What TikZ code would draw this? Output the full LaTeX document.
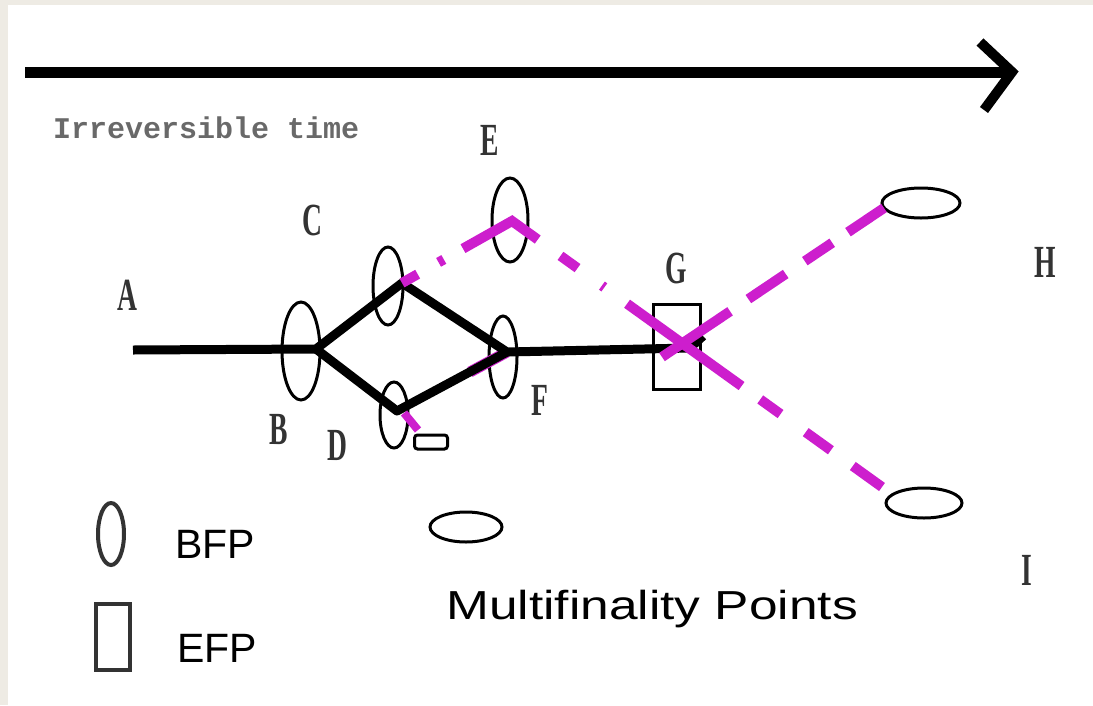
\documentclass[tikz,border=0pt]{standalone}
\usepackage{fontspec}
\usetikzlibrary{shapes.geometric}
\newfontfamily\lblfont[FakeStretch=0.6]{Liberation Serif}
\newfontfamily\legfont{Liberation Sans}
\newfontfamily\mfpfont[FakeStretch=1.27]{Liberation Sans}
\newfontfamily\irrfont{Liberation Mono}
\definecolor{bgbeige}{RGB}{238,235,228}
\definecolor{mag}{RGB}{205,30,205}
\definecolor{irrgray}{RGB}{105,105,105}
\begin{document}
\begin{tikzpicture}[x=1pt,y=-1pt,
  bfp/.style={draw=black,line width=3pt,ellipse,inner sep=0pt},
  lbl/.style={font=\lblfont\bfseries\fontsize{46}{46}\selectfont,text=black!80,inner sep=0pt},
  pathline/.style={draw=black,line width=9pt,line join=round},
  magline/.style={draw=mag,line width=10pt},
  legtext/.style={font=\legfont\fontsize{41}{41}\selectfont,anchor=base west,inner sep=0pt}]
% background
\fill[bgbeige] (0,0) rectangle (1093,705);
\fill[white] (8,5) rectangle (1093,705);
\useasboundingbox (0,0) rectangle (1093,705);

% time arrow
\coordinate (t0) at (25,72);
\coordinate (t1) at (1012,72);
\coordinate (tu) at (980,42);
\coordinate (td) at (984,110);
\draw[line width=11pt] (t0) -- (t1);
\draw[line width=10pt,line join=miter] (tu) -- (t1) -- (td);
\node[font=\irrfont\bfseries\fontsize{30}{30}\selectfont,text=irrgray,anchor=base west,inner sep=0pt] (irr) at (53,138) {Irreversible time};

% ellipses and boxes
\node[bfp,minimum width=38pt,minimum height=98pt] (eB) at (301,351) {};
\node[bfp,minimum width=30pt,minimum height=78pt] (eC) at (388,286) {};
\node[bfp,minimum width=28pt,minimum height=66pt] (eD) at (394,415) {};
\node[bfp,minimum width=36pt,minimum height=84pt] (eE) at (510,220) {};
\node[bfp,minimum width=28pt,minimum height=82pt] (eF) at (503,357) {};
\node[bfp,minimum width=78pt,minimum height=30pt] (eH) at (921,203) {};
\node[bfp,minimum width=76pt,minimum height=30pt] (eI) at (924,503) {};
\node[bfp,minimum width=72pt,minimum height=30pt] (eX) at (466,527) {};
\node[draw,rounded corners=3pt,line width=3pt,minimum width=33pt,minimum height=14pt,inner sep=0pt] (sr) at (431,442) {};
\node[draw,line width=3.5pt,minimum width=47pt,minimum height=85pt,inner sep=0pt] (rG) at (677,347) {};

% path vertices
\coordinate (Av) at (133,350);
\coordinate (Bv) at (316,349);
\coordinate (Cv) at (402,283);
\coordinate (Dv) at (397,411);
\coordinate (Fv) at (507,352);
\coordinate (Gv) at (690,348);
\coordinate (Gt) at (703,336);
\coordinate (DF) at (470,372);

% magenta under D-F
\draw[mag,line width=11pt] (DF) -- (Fv);

% black trajectories
\draw[pathline] (Av) -- (Bv) -- (Cv) -- (Fv) -- (Gv) -- (Gt);
\draw[pathline] (Bv) -- (Dv) -- (Fv);

% magenta paths
\coordinate (Ev) at (512,221);
\coordinate (Iv) at (882,487);
\coordinate (Hs) at (662,357);
\coordinate (Hv) at (884,208);
\coordinate (Dm1) at (404,413);
\coordinate (Dm2) at (418,430);
\draw[magline,line join=miter,dash pattern=on 18pt off 24pt on 6pt off 22pt on 88pt off 28pt on 21pt off 30pt on 3pt off 28pt on 141pt off 23pt on 25pt off 31pt on 31pt off 27pt on 60pt] (Cv) -- (Ev) -- (Iv);
\draw[magline,dash pattern=on 82pt off 22pt on 45pt off 23pt on 33pt off 19pt on 60pt] (Hs) -- (Hv);
\draw[mag,line width=8pt] (Dm1) -- (Dm2);

% letters
\node[lbl] (lA) at (127,295) {A};
\node[lbl] (lB) at (279,429) {B};
\node[lbl] (lC) at (312,220) {C};
\node[lbl] (lD) at (337,445) {D};
\node[lbl] (lE) at (490,140) {E};
\node[lbl] (lF) at (540,400) {F};
\node[lbl] (lG) at (676,268) {G};
\node[lbl] (lH) at (1045,262) {H};
\node[lbl] (lI) at (1027,570) {I};

% legend
\node[draw=black!80,line width=4pt,ellipse,minimum width=26pt,minimum height=62pt,inner sep=0pt] (legE) at (111,534) {};
\node[draw=black!80,line width=4pt,minimum width=34pt,minimum height=66pt,inner sep=0pt] (legR) at (113,637) {};
\node[legtext] (bfpt) at (175,558) {BFP};
\node[legtext] (efpt) at (177,662) {EFP};
\node[font=\mfpfont\fontsize{40.5}{40.5}\selectfont,anchor=base,inner sep=0pt] (mfp) at (652,619) {Multifinality Points};
\end{tikzpicture}
\end{document}
